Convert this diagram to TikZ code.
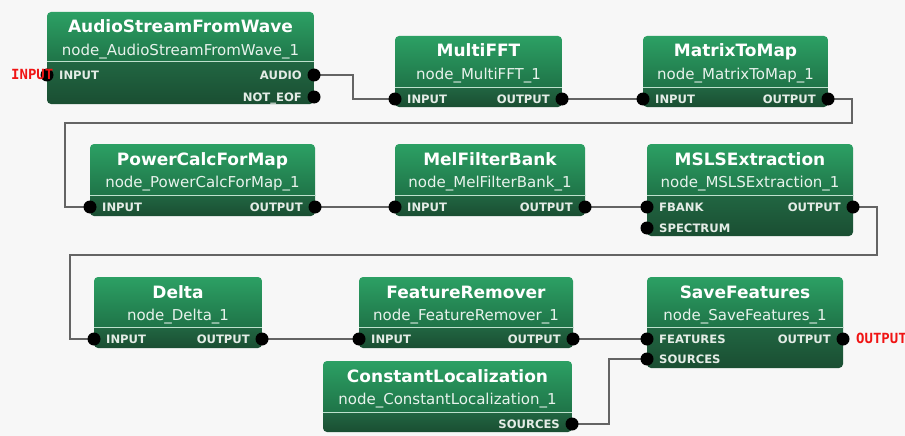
\documentclass[tikz,border=0pt]{standalone}
\usepackage{fontspec}
\setmainfont{DejaVu Sans}
\newfontfamily\redmono{DejaVu Sans Mono}
\definecolor{bg}{RGB}{247,247,247}
\definecolor{hdtop}{RGB}{44,160,100}
\definecolor{hdbot}{RGB}{31,116,72}
\definecolor{bdtop}{RGB}{33,102,66}
\definecolor{bdbot}{RGB}{26,78,50}
\definecolor{sepc}{RGB}{190,225,205}
\definecolor{wire}{RGB}{100,100,100}
\definecolor{outred}{RGB}{240,20,20}
\definecolor{subc}{RGB}{232,242,236}
\definecolor{portc}{RGB}{228,236,230}
\tikzset{
 titletext/.style={text=white, font=\fontsize{17}{20}\selectfont\bfseries, inner sep=0, anchor=base},
 subtext/.style={text=subc, font=\fontsize{15}{18}\selectfont, inner sep=0, anchor=base},
 portlbl/.style={text=portc, font=\fontsize{11.6}{14}\selectfont\bfseries, inner sep=0},
 portdot/.style={circle, fill=black, inner sep=0, minimum size=13pt},
 wireline/.style={draw=wire, line width=1.4pt},
 extlbl/.style={text=outred, font=\redmono\bfseries\fontsize{14}{16}\selectfont, inner sep=0, anchor=base west},
 blockarea/.style={inner sep=0, anchor=north west},
}
\newcommand\hblock[8]{%
 \begin{scope}
  \clip[rounded corners=4pt] (#2,#3) rectangle (#4,#6);
  \shade[top color=hdtop, bottom color=hdbot] (#2,#3) rectangle (#4,#5);
  \shade[top color=bdtop, bottom color=bdbot] (#2,#5) rectangle (#4,#6);
 \end{scope}
 \draw[sepc, line width=1pt] (#2,#5) -- (#4,#5);
 \pgfmathsetmacro\bw{#4-#2}\pgfmathsetmacro\bh{#6-#3}
 \node[blockarea, minimum width=\bw pt, minimum height=\bh pt] (#1) at (#2,#3) {};
 \node[titletext] (#1-title) at ({(#2+#4)/2},{#3+21}) {#7};
 \node[subtext] (#1-sub) at ({(#2+#4)/2},{#3+43.5}) {#8};
}
\newcommand\lport[4]{%
 \coordinate (#1) at (#2,#3);
 \node[portlbl, anchor=base west] (#1-lbl) at ({#2+12},{#3+4.3}) {#4};
}
\newcommand\rport[4]{%
 \coordinate (#1) at (#2,#3);
 \node[portlbl, anchor=base east] (#1-lbl) at ({#2-12},{#3+4.3}) {#4};
}
\begin{document}
\begin{tikzpicture}[x=1pt,y=-1pt]
\fill[bg] (0,0) rectangle (905,436);
\useasboundingbox (0,0) rectangle (905,436);

\hblock{A}{47}{12}{314}{62}{104}{AudioStreamFromWave}{node\_AudioStreamFromWave\_1}
\lport{A-in}{47}{75}{INPUT}
\rport{A-audio}{314}{75}{AUDIO}
\rport{A-eof}{314}{97}{NOT\_EOF}

\hblock{B}{395}{36}{562}{87}{107}{MultiFFT}{node\_MultiFFT\_1}
\lport{B-in}{395}{99}{INPUT}
\rport{B-out}{562}{99}{OUTPUT}

\hblock{C}{643}{36}{828}{87}{107}{MatrixToMap}{node\_MatrixToMap\_1}
\lport{C-in}{643}{99}{INPUT}
\rport{C-out}{828}{99}{OUTPUT}

\hblock{D}{90}{144}{315}{195}{216}{PowerCalcForMap}{node\_PowerCalcForMap\_1}
\lport{D-in}{90}{207}{INPUT}
\rport{D-out}{315}{207}{OUTPUT}

\hblock{E}{395}{144}{585}{195}{216}{MelFilterBank}{node\_MelFilterBank\_1}
\lport{E-in}{395}{207}{INPUT}
\rport{E-out}{585}{207}{OUTPUT}

\hblock{F}{647}{144}{853}{195}{236}{MSLSExtraction}{node\_MSLSExtraction\_1}
\lport{F-fbank}{647}{207}{FBANK}
\lport{F-spec}{647}{228}{SPECTRUM}
\rport{F-out}{853}{207}{OUTPUT}

\hblock{G}{94}{277}{262}{327}{348}{Delta}{node\_Delta\_1}
\lport{G-in}{94}{339}{INPUT}
\rport{G-out}{262}{339}{OUTPUT}

\hblock{H}{359}{277}{573}{327}{348}{FeatureRemover}{node\_FeatureRemover\_1}
\lport{H-in}{359}{339}{INPUT}
\rport{H-out}{573}{339}{OUTPUT}

\hblock{I}{647}{277}{843}{327}{368}{SaveFeatures}{node\_SaveFeatures\_1}
\lport{I-feat}{647}{339}{FEATURES}
\lport{I-src}{647}{359}{SOURCES}
\rport{I-out}{843}{339}{OUTPUT}

\hblock{J}{323}{361}{572}{412}{432}{ConstantLocalization}{node\_ConstantLocalization\_1}
\rport{J-src}{572}{424}{SOURCES}

% connectors
\draw[wireline] (A-audio) -- ++(39,0) |- (B-in);
\draw[wireline] (B-out) -- (C-in);
\draw[wireline] (C-out) -- ++(24,0) -- ++(0,24) -- ++(-787,0) |- (D-in);
\draw[wireline] (D-out) -- (E-in);
\draw[wireline] (E-out) -- (F-fbank);
\draw[wireline] (F-out) -- ++(24,0) -- ++(0,48) -- ++(-807,0) |- (G-in);
\draw[wireline] (G-out) -- (H-in);
\draw[wireline] (H-out) -- (I-feat);
\draw[wireline] (J-src) -- ++(37,0) |- (I-src);

% port dots
\foreach \p in {A-in,A-audio,A-eof,B-in,B-out,C-in,C-out,D-in,D-out,E-in,E-out,F-fbank,F-spec,F-out,G-in,G-out,H-in,H-out,I-feat,I-src,I-out,J-src}
  \node[portdot] (\p-dot) at (\p) {};

% external labels
\node[extlbl] (extin) at (11,79.5) {INPUT};
\node[extlbl] (extout) at (856,343.5) {OUTPUT};
\end{tikzpicture}
\end{document}
